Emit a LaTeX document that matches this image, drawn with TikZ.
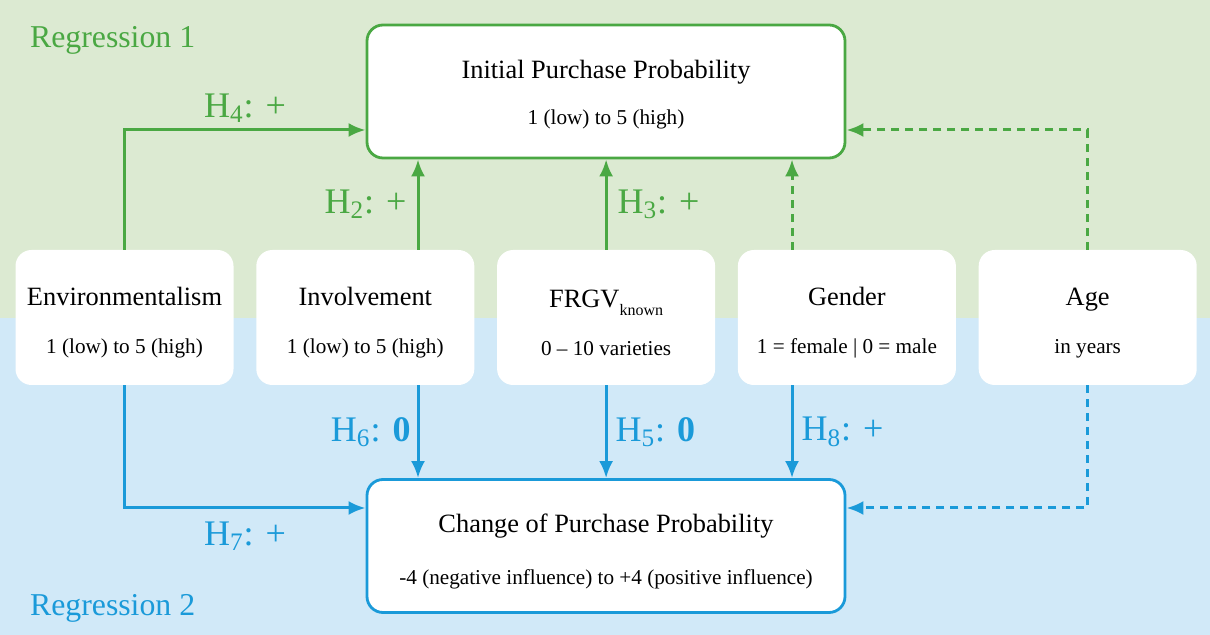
\documentclass[tikz,border=0pt]{standalone}
\usepackage{fontspec}
\setmainfont{Liberation Serif}
\usetikzlibrary{positioning,arrows.meta}
\definecolor{regone}{HTML}{4AA843}
\definecolor{regtwo}{HTML}{1A9AD9}
\definecolor{bgone}{HTML}{DCEAD2}
\definecolor{bgtwo}{HTML}{D1E9F8}
\newcommand{\ttlsize}{\fontsize{13.2}{16}\selectfont}
\newcommand{\subsize}{\fontsize{10.6}{13}\selectfont}
\newcommand{\lowsub}[1]{\raisebox{-4pt}{\fontsize{8}{9}\selectfont #1}}
\tikzset{
  varbox/.style={rectangle,rounded corners=8pt,fill=white,minimum width=109pt,minimum height=67.5pt,align=center,inner sep=0pt},
  depbox/.style={varbox,draw,line width=1.4pt,minimum width=239pt,minimum height=66.5pt},
  hyp/.style={font=\fontsize{18}{21}\selectfont,inner sep=1pt},
  garrow/.style={-{Latex[length=8.5pt,width=7pt]},line width=1.5pt,draw=regone},
  barrow/.style={-{Latex[length=8.5pt,width=7pt]},line width=1.5pt,draw=regtwo},
  dashline/.style={dash pattern=on 4pt off 3pt}
}

\begin{document}
\begin{tikzpicture}[x=0.5pt,y=-0.5pt]
\useasboundingbox (0,0) rectangle (1210,635);
\fill[bgone] (0,0) rectangle (1210,318);
\fill[bgtwo] (0,318) rectangle (1210,635);
% rails and columns
\coordinate (railtop) at (0,130);
\coordinate (railbot) at (0,508);
\coordinate (colinv) at (418,0);
\coordinate (colgen) at (792,0);
\node[regone,font=\fontsize{15.9}{18}\selectfont,anchor=west] (regA) at (23,40) {Regression 1};
\node[regtwo,font=\fontsize{15.9}{18}\selectfont,anchor=west] (regB) at (23,608) {Regression 2};
% dependent variables
\node[depbox,draw=regone] (init) at (606,91.5) {\rule{0pt}{12.5pt}\ttlsize Initial Purchase Probability\\[11pt]\subsize 1 (low) to 5 (high)};
\node[depbox,draw=regtwo] (chg) at (606,546) {\rule{0pt}{14.5pt}\ttlsize Change of Purchase Probability\\[14pt]\subsize -4 (negative influence) to +4 (positive influence)};
% independent variables
\node[varbox] (env) at (124.5,317.5) {\rule{0pt}{14pt}\ttlsize Environmentalism\\[12pt]\subsize 1 (low) to 5 (high)};
\node[varbox,right=11pt of env] (inv) {\rule{0pt}{14pt}\ttlsize Involvement\\[12pt]\subsize 1 (low) to 5 (high)};
\node[varbox,right=11pt of inv] (frgv) {\rule{0pt}{14pt}\ttlsize FRGV\lowsub{known}\\[12pt]\subsize 0 – 10 varieties};
\node[varbox,right=11pt of frgv] (gen) {\rule{0pt}{14pt}\ttlsize Gender\\[12pt]\subsize 1 = female | 0 = male};
\node[varbox,right=11pt of gen] (age) {\rule{0pt}{14pt}\ttlsize Age\\[12pt]\subsize in years};
% regression 1
\draw[garrow] (env.north) |- (init.west |- railtop) node[pos=0.75,above=2pt,hyp,regone] (lH4) {H\textsubscript{4}: +};
\draw[garrow] (inv.north -| colinv) -- (init.south -| colinv) node[midway,left=4pt,hyp,regone] (lH2) {H\textsubscript{2}: +};
\draw[garrow] (frgv.north) -- (frgv.north |- init.south) node[midway,right=4pt,hyp,regone] (lH3) {H\textsubscript{3}: +};
\draw[garrow,dashline] (gen.north -| colgen) -- (init.south -| colgen);
\draw[garrow,dashline] (age.north) |- (init.east |- railtop);
% regression 2
\draw[barrow] (env.south) |- (chg.west |- railbot) node[pos=0.75,below=5pt,hyp,regtwo] (lH7) {H\textsubscript{7}: +};
\draw[barrow] (inv.south -| colinv) -- (chg.north -| colinv) node[midway,left=2pt,hyp,regtwo] (lH6) {H\textsubscript{6}: \textbf{0}};
\draw[barrow] (frgv.south) -- (frgv.south |- chg.north) node[midway,right=3pt,hyp,regtwo] (lH5) {H\textsubscript{5}: \textbf{0}};
\draw[barrow] (gen.south -| colgen) -- (chg.north -| colgen) node[midway,right=3pt,hyp,regtwo] (lH8) {H\textsubscript{8}: +};
\draw[barrow,dashline] (age.south) |- (chg.east |- railbot);
\end{tikzpicture}
\end{document}
